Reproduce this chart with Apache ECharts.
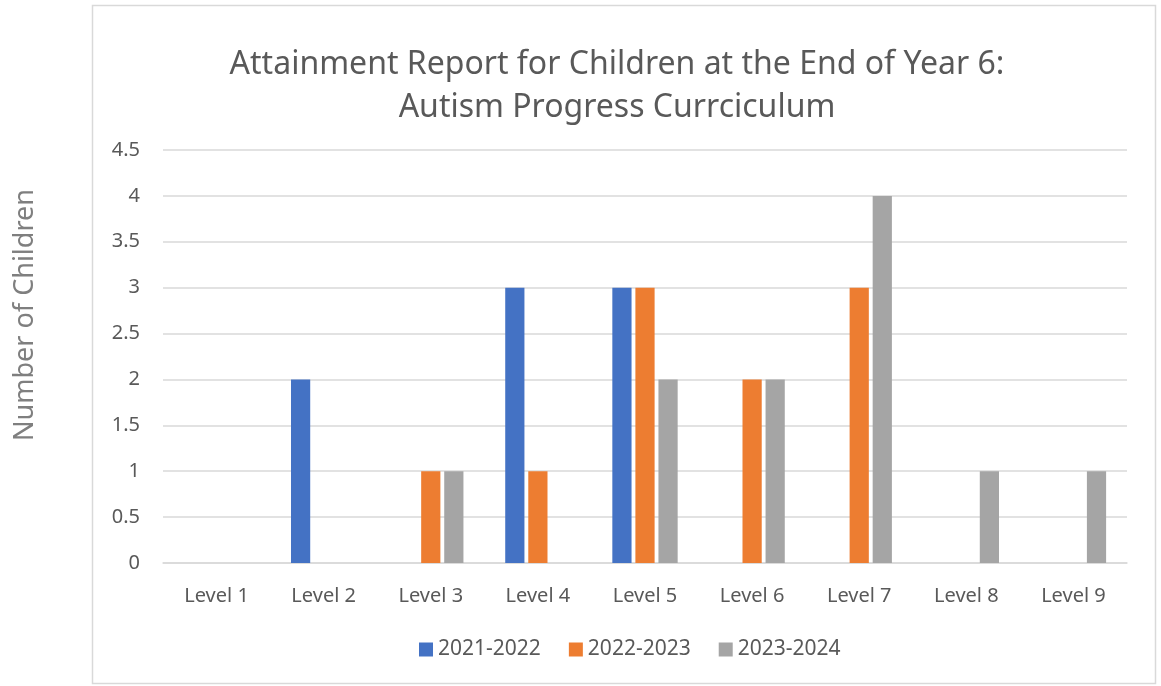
<!DOCTYPE html>
<html>
<head>
<meta charset="utf-8">
<script src="https://cdn.jsdelivr.net/npm/echarts@6/dist/echarts.min.js"></script>
<style>
html, body { margin: 0; padding: 0; background: #fff; }
#chart { width: 1161px; height: 686px; }
</style>
</head>
<body>
<div id="chart"></div>
<script>
// data
var levels = ['Level 1', 'Level 2', 'Level 3', 'Level 4', 'Level 5', 'Level 6', 'Level 7', 'Level 8', 'Level 9'];
var years2122 = [0, 2, 0, 3, 3, 0, 0, 0, 0];
var years2223 = [0, 0, 1, 1, 3, 2, 3, 0, 0];
var years2324 = [0, 0, 1, 0, 2, 2, 4, 1, 1];
var seriesNames = ['2021-2022', '2022-2023', '2023-2024'];
var colors = ['#4472c4', '#ed7d31', '#a5a5a5'];

var font = '"Noto Sans", "Open Sans", sans-serif';
var myChart = echarts.init(document.getElementById('chart'));

var option = {
    animation: false,
    color: colors,
    title: {
        text: 'Attainment Report for Children at the End of Year 6:\nAutism Progress Currciculum',
        left: 612,
        textAlign: 'center',
        top: 38,
        textStyle: {
            fontFamily: font,
            fontSize: 32,
            fontWeight: 'normal',
            color: '#595959',
            lineHeight: 43
        }
    },
    graphic: [{
        type: 'rect',
        shape: { x: 92.5, y: 5.5, width: 1063, height: 678 },
        style: { fill: 'none', stroke: '#d9d9d9', lineWidth: 1.5 },
        z: -1
    }, {
        // y axis title sits outside the chart frame, above the plot middle
        type: 'text',
        x: 25,
        y: 315,
        rotation: Math.PI / 2,
        style: {
            text: 'Number of Children',
            fontFamily: font,
            fontSize: 27,
            fill: '#7f7f7f',
            textAlign: 'center',
            textVerticalAlign: 'middle'
        }
    }],
    legend: {
        data: seriesNames,
        bottom: 21,
        left: 414,
        itemWidth: 14,
        itemHeight: 14,
        itemGap: 28,
        icon: 'rect',
        textStyle: { fontFamily: font, fontSize: 21, color: '#595959' }
    },
    grid: {
        left: 163,
        right: 34,
        top: 150,
        bottom: 123
    },
    xAxis: {
        type: 'category',
        data: levels,
        axisTick: { show: false },
        axisLine: { lineStyle: { color: '#d9d9d9', width: 1.5 } },
        axisLabel: {
            fontFamily: font,
            fontSize: 20,
            color: '#595959',
            margin: 23
        }
    },
    yAxis: {
        type: 'value',
        min: 0,
        max: 4.5,
        interval: 0.5,
        axisLine: { show: false },
        axisTick: { show: false },
        splitLine: { lineStyle: { color: '#d9d9d9', width: 1.5 } },
        axisLabel: {
            fontFamily: font,
            fontSize: 20,
            color: '#595959',
            margin: 23
        }
    },
    series: [
        { name: seriesNames[0], type: 'bar', data: years2122, barGap: '20%', barCategoryGap: '39%' },
        { name: seriesNames[1], type: 'bar', data: years2223, barGap: '20%', barCategoryGap: '39%' },
        { name: seriesNames[2], type: 'bar', data: years2324, barGap: '20%', barCategoryGap: '39%' }
    ]
};

myChart.setOption(option);
</script>
</body>
</html>
